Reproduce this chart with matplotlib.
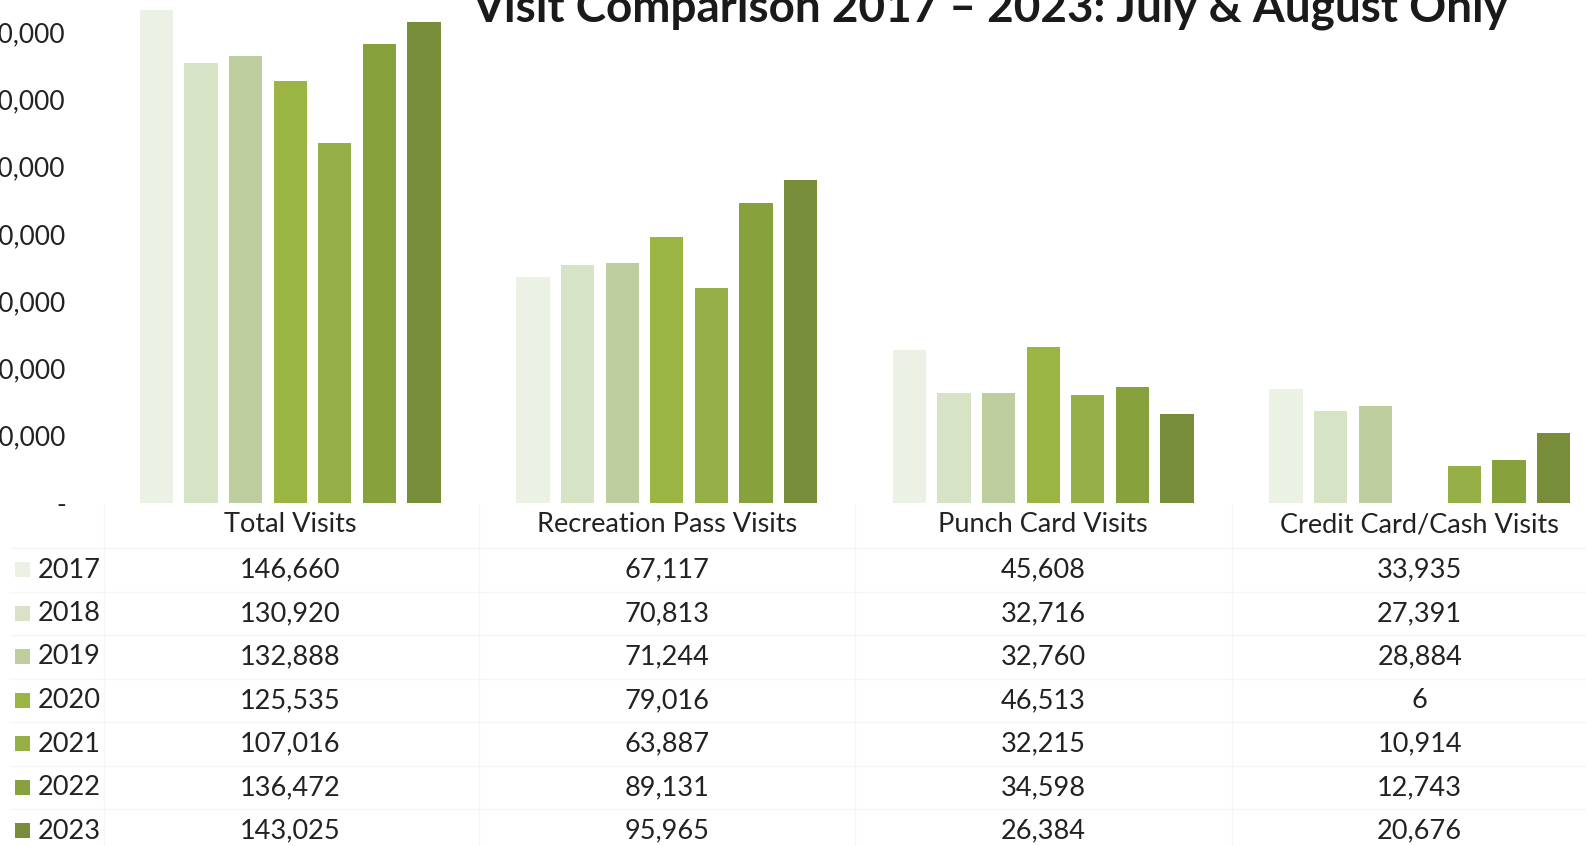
import matplotlib
matplotlib.use("Agg")
import matplotlib.pyplot as plt
from matplotlib.patches import Rectangle
from matplotlib.transforms import blended_transform_factory
from matplotlib.lines import Line2D

plt.rcParams['font.family'] = ['Lato', 'DejaVu Sans']

categories = ["Total Visits", "Recreation Pass Visits", "Punch Card Visits", "Credit Card/Cash Visits"]
years = ["2017", "2018", "2019", "2020", "2021", "2022", "2023"]
visits = {
    "2017": [146660, 67117, 45608, 33935],
    "2018": [130920, 70813, 32716, 27391],
    "2019": [132888, 71244, 32760, 28884],
    "2020": [125535, 79016, 46513, 6],
    "2021": [107016, 63887, 32215, 10914],
    "2022": [136472, 89131, 34598, 12743],
    "2023": [143025, 95965, 26384, 20676],
}
colors = ["#ebf1e4", "#d6e3c4", "#bdcd9d", "#9bb542", "#95ae45", "#87a13c", "#788d39"]
yticks = [0, 20000, 40000, 60000, 80000, 100000, 120000, 140000]

W, H = 1586, 846
fig = plt.figure(figsize=(W / 100, H / 100), dpi=100)
ax = fig.add_axes([102 / W, 1 - 503 / H, (1608 - 102) / W, 503 / H])

pitch = 0.1183
bw = 0.0887
for i, y in enumerate(years):
    xs = [c + (i - 3) * pitch for c in range(len(categories))]
    ax.bar(xs, visits[y], width=bw, color=colors[i], linewidth=0)

ax.set_xlim(-0.5, 3.5)
ax.set_ylim(0, 149500)
ax.set_yticks(yticks)
ax.set_yticklabels(["-" if v == 0 else f"{v:,}" for v in yticks])
ax.tick_params(axis='y', length=0, pad=26, labelsize=19, labelcolor="#222222")
ax.set_xticks([])
for s in ax.spines.values():
    s.set_visible(False)

fig.text(990 / W, 1 - 21 / H, "Visit Comparison 2017 \u2013 2023: July & August Only",
         ha='center', va='baseline', fontsize=33, weight='bold', color="#1a1a1a")

# data table under the bars
tr = blended_transform_factory(ax.transData, fig.transFigure)
head_y = 525
row0, row_h = 570, 43.5
for c, name in enumerate(categories):
    ax.text(c, 1 - head_y / H, name, transform=tr, ha='center', va='center',
            fontsize=19.5, color="#222222")
    for i, y in enumerate(years):
        ax.text(c, 1 - (row0 + i * row_h) / H, f"{visits[y][c]:,}", transform=tr,
                ha='center', va='center', fontsize=19.5, color="#222222")

for i, y in enumerate(years):
    yc = row0 + i * row_h
    fig.patches.append(Rectangle((15 / W, 1 - (yc + 7) / H), 15 / W, 15 / H,
                                 transform=fig.transFigure, color=colors[i], linewidth=0))
    fig.text(38 / W, 1 - yc / H, y, ha='left', va='center', fontsize=19.5, color="#222222")

# faint table rules
grid_c = "#f6f6f6"
for x in [104, 479, 855, 1232]:
    fig.lines.append(Line2D([x / W, x / W], [1 - 503 / H, 0], transform=fig.transFigure,
                            color=grid_c, linewidth=1))
for i in range(len(years)):
    yl = row0 - row_h / 2 + i * row_h
    fig.lines.append(Line2D([10 / W, 1], [1 - yl / H, 1 - yl / H], transform=fig.transFigure,
                            color=grid_c, linewidth=1))

fig.savefig("out.png", dpi=100)
